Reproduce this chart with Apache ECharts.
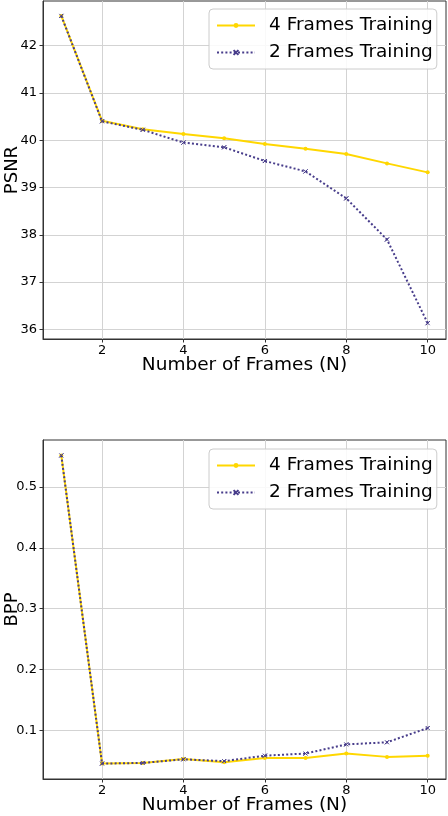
<!DOCTYPE html>
<html>
<head>
<meta charset="utf-8">
<script src="https://cdn.jsdelivr.net/npm/echarts@6/dist/echarts.min.js"></script>
<style>
html,body{margin:0;padding:0;background:#fff;}
#main{width:448px;height:816px;}
</style>
</head>
<body>
<div id="main"></div>
<script>
// ---- data ----
const frames = [1, 2, 3, 4, 5, 6, 7, 8, 9, 10];
const psnr4 = [42.63, 40.41, 40.23, 40.13, 40.04, 39.92, 39.82, 39.71, 39.51, 39.32];
const psnr2 = [42.63, 40.40, 40.22, 39.95, 39.85, 39.56, 39.34, 38.77, 37.90, 36.13];
const bpp4 = [0.552, 0.045, 0.046, 0.0525, 0.047, 0.054, 0.054, 0.0615, 0.056, 0.058];
const bpp2 = [0.552, 0.045, 0.046, 0.052, 0.049, 0.058, 0.0615, 0.0765, 0.080, 0.1035];
const xTicks = [2, 4, 6, 8, 10];
const psnrTicks = [36, 37, 38, 39, 40, 41, 42];
const bppTicks = [0.1, 0.2, 0.3, 0.4, 0.5];
const name4 = '4 Frames Training';
const name2 = '2 Frames Training';

const pair = (xs, ys) => xs.map((x, i) => [x, ys[i]]);

const FONT = 'DejaVu Sans';
const gold = '#FFD700';
const slate = '#483D8B';
const xMark = 'path://M0,0 L10,10 M10,0 L0,10 Z';

function xAxisCfg(gi) {
  return {
    type: 'value', gridIndex: gi, min: 0.55, max: 10.45,
    name: 'Number of Frames (N)', nameLocation: 'middle', nameGap: 17, nameMoveOverlap: false,
    nameTextStyle: {fontFamily: FONT, fontSize: 18.5, color: '#000'},
    axisLine: {show: true, onZero: false, lineStyle: {color: '#333', width: 1}},
    axisTick: {show: true, inside: false, length: 3.5, customValues: xTicks, lineStyle: {color: '#333'}},
    axisLabel: {customValues: xTicks, fontFamily: FONT, fontSize: 13, color: '#000', margin: 5},
    splitLine: {show: true, lineStyle: {color: '#d3d3d3', width: 1}}
  };
}
function yAxisCfg(gi, min, max, ticks, name, fmt) {
  return {
    type: 'value', gridIndex: gi, min: min, max: max,
    name: name, nameLocation: 'middle', nameGap: 22, nameMoveOverlap: false,
    nameTextStyle: {fontFamily: FONT, fontSize: 18, color: '#000'},
    axisLine: {show: true, onZero: false, lineStyle: {color: '#333', width: 1}},
    axisTick: {show: true, inside: false, length: 3.5, customValues: ticks, lineStyle: {color: '#333'}},
    axisLabel: {customValues: ticks, fontFamily: FONT, fontSize: 13, color: '#000', margin: 6, formatter: fmt},
    splitLine: {show: true, lineStyle: {color: '#d3d3d3', width: 1}}
  };
}
function legendCfg(top) {
  return {
    data: [name4, name2], orient: 'vertical', left: 209, top: top,
    itemWidth: 38, itemHeight: 6, itemGap: 6,
    padding: [6, 4, 6, 7],
    borderColor: '#cccccc', borderWidth: 1, borderRadius: 4,
    backgroundColor: 'rgba(255,255,255,0.85)',
    textStyle: {fontFamily: FONT, fontSize: 18.5, color: '#000', lineHeight: 21, padding: [0, 0, 0, 9]}
  };
}
function s4(xi, data) {
  return {
    name: name4, type: 'line', xAxisIndex: xi, yAxisIndex: xi, data: data,
    symbol: 'circle', symbolSize: 4, showSymbol: true,
    lineStyle: {color: gold, width: 2}, itemStyle: {color: gold},
    animation: false, z: 2
  };
}
function s2(xi, data) {
  return {
    name: name2, type: 'line', xAxisIndex: xi, yAxisIndex: xi, data: data,
    symbol: xMark, symbolSize: 4, showSymbol: true,
    lineStyle: {color: slate, width: 2, type: [2, 2.2]},
    itemStyle: {color: slate, borderColor: slate, borderWidth: 1},
    animation: false, z: 3
  };
}

const chart = echarts.init(document.getElementById('main'), null, {renderer: 'canvas'});
chart.setOption({
  animation: false,
  backgroundColor: '#fff',
  grid: [
    {left: 43, right: 2, top: 1, height: 338, show: true, borderColor: '#333', borderWidth: 1, backgroundColor: 'transparent', containLabel: false, outerBoundsMode: 'none'},
    {left: 43, right: 2, top: 440, height: 339, show: true, borderColor: '#333', borderWidth: 1, backgroundColor: 'transparent', containLabel: false, outerBoundsMode: 'none'}
  ],
  legend: [legendCfg(9), legendCfg(449)],
  xAxis: [xAxisCfg(0), xAxisCfg(1)],
  yAxis: [
    yAxisCfg(0, 35.795, 42.945, psnrTicks, 'PSNR', v => String(v)),
    yAxisCfg(1, 0.0196, 0.5774, bppTicks, 'BPP', v => v.toFixed(1))
  ],
  series: [
    s4(0, pair(frames, psnr4)), s2(0, pair(frames, psnr2)),
    s4(1, pair(frames, bpp4)), s2(1, pair(frames, bpp2))
  ]
});
</script>
</body>
</html>
